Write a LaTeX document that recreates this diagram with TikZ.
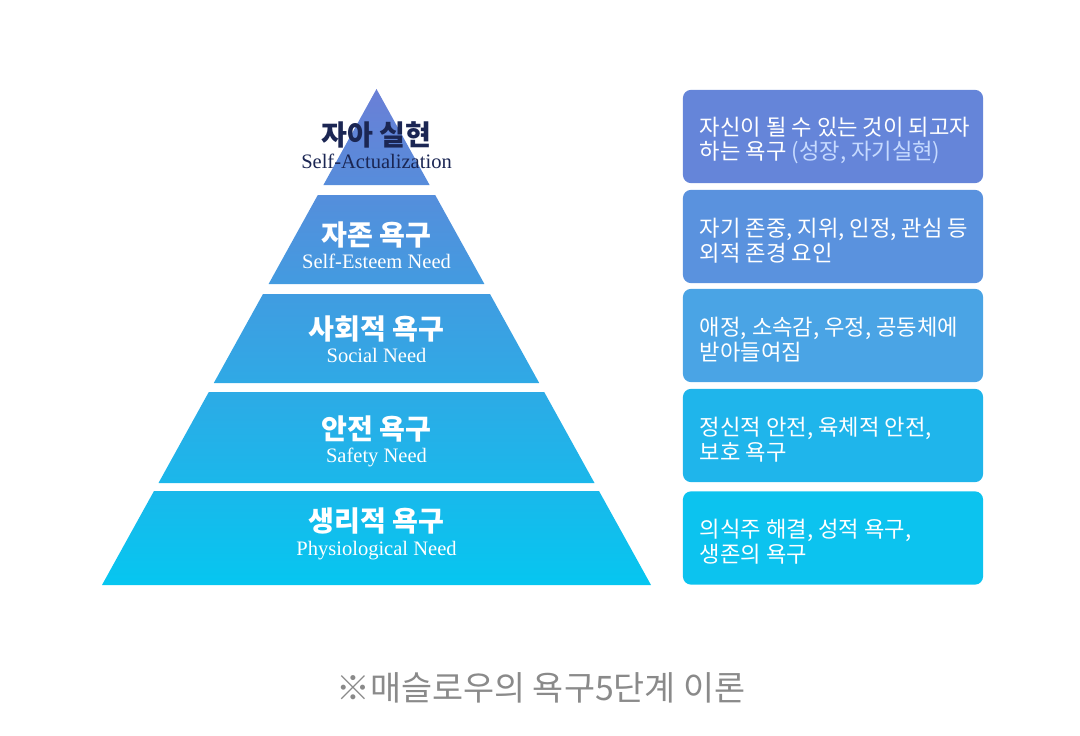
\documentclass[tikz,border=0pt]{standalone}
\usepackage{fontspec}
\setmainfont{Liberation Serif}
\newfontfamily\krfont{Noto Sans CJK KR}
\usepackage{xcolor}
\usetikzlibrary{positioning}

\definecolor{pyrtop}{HTML}{6A7FD6}
\definecolor{pyrmid}{HTML}{47A3E4}
\definecolor{pyrbot}{HTML}{06C6F0}
\definecolor{boxa}{HTML}{6585D9}
\definecolor{boxb}{HTML}{5A92DE}
\definecolor{boxc}{HTML}{4AA4E5}
\definecolor{boxd}{HTML}{1FB5EB}
\definecolor{boxe}{HTML}{0CC3EF}
\definecolor{navy}{HTML}{1B2653}
\definecolor{softblue}{HTML}{C6DAFF}
\definecolor{capgray}{HTML}{8A8A8A}

\begin{document}
\begin{tikzpicture}[
  x=0.025cm, y=-0.025cm,
  ttl/.style={font=\krfont\bfseries\fontsize{20}{24}\selectfont, text=white, anchor=base},
  sub/.style={font=\fontsize{14.6}{17}\selectfont, text=white, anchor=base},
  descbox/.style={rounded corners=2mm, minimum width=7.5cm, minimum height=2.33cm, inner sep=0pt},
  desc/.style={font=\krfont\fontsize{15.8}{17.6}\selectfont, text=white, align=left, inner sep=0pt, yshift=-1mm},
]
\useasboundingbox (0,0) rectangle (1080,736);

% Pyramid (one shading over all five layers)
\begin{scope}
  \clip (376.5,89) -- (429.6,185) -- (323.4,185) -- cycle
        (317.8,195) -- (435.2,195) -- (484.4,284) -- (268.6,284) -- cycle
        (263,294) -- (490,294) -- (539.2,383) -- (213.8,383) -- cycle
        (208.8,392) -- (544.2,392) -- (594.5,483) -- (158.5,483) -- cycle
        (154,491) -- (599,491) -- (651,585) -- (102,585) -- cycle;
  \shade[top color=pyrtop, middle color=pyrmid, bottom color=pyrbot] (100,89) rectangle (655,585);
\end{scope}

% Layer labels
\node[ttl, text=navy] (lv1) at (376.5,146) {자아 실현};
\node[sub, text=navy] (lv1en) at (376.5,169) {Self-Actualization};
\node[ttl] (lv2) at (376.5,245) {자존 욕구};
\node[sub] (lv2en) at (376.5,268) {Self-Esteem Need};
\node[ttl] (lv3) at (376.5,339) {사회적 욕구};
\node[sub] (lv3en) at (376.5,362) {Social Need};
\node[ttl] (lv4) at (376.5,439) {안전 욕구};
\node[sub] (lv4en) at (376.5,462) {Safety Need};
\node[ttl] (lv5) at (376.5,531) {생리적 욕구};
\node[sub] (lv5en) at (376.5,555) {Physiological Need};

% Description boxes (right side)
\node[descbox, fill=boxa] (box1) at (833,136.5) {};
\node[descbox, fill=boxb] (box2) at (833,236.5) {};
\node[descbox, fill=boxc] (box3) at (833,335.5) {};
\node[descbox, fill=boxd] (box4) at (833,435.5) {};
\node[descbox, fill=boxe] (box5) at (833,538) {};

\node[desc, right=4.25mm of box1.west] (txt1) {자신이 될 수 있는 것이 되고자\\하는 욕구 {\color{softblue}(성장, 자기실현)}};
\node[desc, right=4.25mm of box2.west] (txt2) {자기 존중, 지위, 인정, 관심 등\\외적 존경 요인};
\node[desc, right=4.25mm of box3.west] (txt3) {애정, 소속감, 우정, 공동체에\\받아들여짐};
\node[desc, right=4.25mm of box4.west] (txt4) {정신적 안전, 육체적 안전,\\보호 욕구};
\node[desc, right=4.25mm of box5.west] (txt5) {의식주 해결, 성적 욕구,\\생존의 욕구};

% Caption
\node[font=\krfont\fontsize{24}{28}\selectfont, text=capgray] (caption) at (541,688) {※매슬로우의 욕구5단계 이론};

\end{tikzpicture}
\end{document}
